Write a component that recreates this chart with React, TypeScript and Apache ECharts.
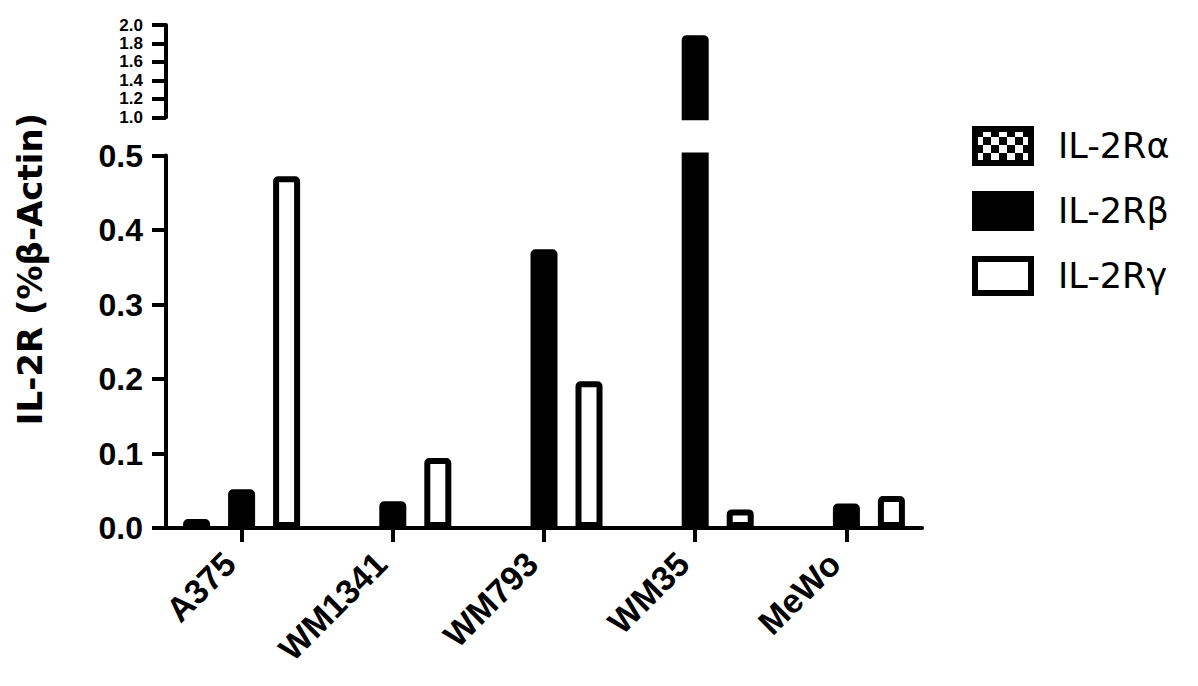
import React, { useEffect, useRef } from 'react';
import * as echarts from 'echarts';

// ---- data ----
const categories = ['A375', 'WM1341', 'WM793', 'WM35', 'MeWo'];
const seriesNames = ['IL-2Rα', 'IL-2Rβ', 'IL-2Rγ'];
const alphaValues: (number | null)[] = [0.012, null, null, null, null];
const betaValues: (number | null)[] = [0.052, 0.036, 0.374, 1.89, 0.033];
const gammaValues: (number | null)[] = [0.472, 0.094, 0.197, 0.025, 0.043];
const lowerRange = { min: 0, max: 0.5, interval: 0.1 };
const upperRange = { min: 1.0, max: 2.0, interval: 0.2 };
const yTitle = 'IL-2R (%β-Actin)';

function makeChecker(): HTMLCanvasElement {
  const c = document.createElement('canvas');
  const s = 8;
  c.width = s * 2;
  c.height = s * 2;
  const ctx = c.getContext('2d')!;
  ctx.fillStyle = '#fff';
  ctx.fillRect(0, 0, s * 2, s * 2);
  ctx.fillStyle = '#000';
  ctx.fillRect(0, 0, s, s);
  ctx.fillRect(s, s, s, s);
  return c;
}

export default function App() {
  const ref = useRef<HTMLDivElement>(null);

  useEffect(() => {
    if (!ref.current) return;
    const chart = echarts.init(ref.current, null, { renderer: 'svg' });
    const checker = makeChecker();

    const fills = [{ image: checker, repeat: 'repeat' }, '#000', '#fff'];
    const valueSets = [alphaValues, betaValues, gammaValues];

    const GRID_LEFT = 166;
    const GRID_WIDTH = 756;
    const tickFont = { fontFamily: 'Liberation Sans, Arial', fontWeight: 'bold' as const, fontSize: 32, color: '#000' };
    const axisLine = { show: true, lineStyle: { color: '#000', width: 4 } };
    const axisTick = { show: true, length: 14, lineStyle: { color: '#000', width: 4 } };

    const baseStyle = (i: number) => ({
      color: fills[i] as any,
      borderColor: '#000',
      borderWidth: 6,
      borderRadius: [2, 2, 0, 0],
    });

    const series: any[] = [];
    // upper segment (1.0 - 2.0)
    valueSets.forEach((vals, i) => {
      series.push({
        type: 'bar',
        name: seriesNames[i],
        xAxisIndex: 0,
        yAxisIndex: 0,
        barWidth: 27,
        barGap: '66.7%',
        itemStyle: baseStyle(i),
        data: vals.map((v) => (v !== null && v > upperRange.min ? v : '-')),
      });
    });
    // lower segment (0 - 0.5)
    valueSets.forEach((vals, i) => {
      series.push({
        type: 'bar',
        name: seriesNames[i],
        xAxisIndex: 1,
        yAxisIndex: 1,
        barWidth: 27,
        barGap: '66.7%',
        itemStyle: baseStyle(i),
        data: vals.map((v) =>
          v === null
            ? '-'
            : v > lowerRange.max
            ? { value: v, itemStyle: { borderRadius: 0 } }
            : v
        ),
      });
    });

    chart.setOption({
      animation: false,
      backgroundColor: '#fff',
      grid: [
        { left: GRID_LEFT, width: GRID_WIDTH, top: 25, height: 92.3 },
        { left: GRID_LEFT, width: GRID_WIDTH, top: 155.5, height: 372.5 },
      ],
      xAxis: [
        { type: 'category', gridIndex: 0, data: categories, show: false },
        {
          type: 'category',
          gridIndex: 1,
          data: categories,
          axisLine,
          axisTick: { ...axisTick, alignWithLabel: true },
          axisLabel: {
            ...tickFont,
            fontSize: 34,
            rotate: 45,
            margin: 42,
            interval: 0,
            verticalAlign: 'bottom',
          },
        },
      ],
      yAxis: [
        {
          type: 'value',
          gridIndex: 0,
          min: upperRange.min,
          max: upperRange.max,
          interval: upperRange.interval,
          axisLine,
          axisTick,
          splitLine: { show: false },
          axisLabel: {
            ...tickFont,
            fontSize: 17,
            lineHeight: 17,
            margin: 23,
            showMinLabel: true,
            showMaxLabel: true,
            formatter: (v: number) => v.toFixed(1),
          },
        },
        {
          type: 'value',
          gridIndex: 1,
          min: lowerRange.min,
          max: lowerRange.max,
          interval: lowerRange.interval,
          axisLine,
          axisTick,
          splitLine: { show: false },
          axisLabel: { ...tickFont, margin: 23, formatter: (v: number) => v.toFixed(1) },
        },
      ],
      legend: {
        orient: 'vertical',
        left: 972,
        top: 126,
        padding: 0,
        itemWidth: 56,
        itemHeight: 34,
        itemGap: 25,
        icon: 'rect',
        data: seriesNames,
        itemStyle: { borderColor: '#000', borderWidth: 6 },
        textStyle: {
          fontFamily: 'DejaVu Sans',
          fontSize: 35,
          lineHeight: 34,
          color: '#000',
          padding: [0, 0, 0, 22],
        },
      },
      graphic: [
        {
          type: 'text',
          x: 30,
          y: 269,
          rotation: Math.PI / 2,
          style: {
            text: yTitle,
            fontFamily: 'DejaVu Sans',
            fontWeight: 'bold',
            fontSize: 34,
            fill: '#000',
            align: 'center',
            verticalAlign: 'middle',
          },
        },
      ],
      series,
    });

    return () => chart.dispose();
  }, []);

  return (
    <div
      ref={ref}
      style={{ position: 'fixed', left: 0, top: 0, width: 1198, height: 686, background: '#fff' }}
    />
  );
}
